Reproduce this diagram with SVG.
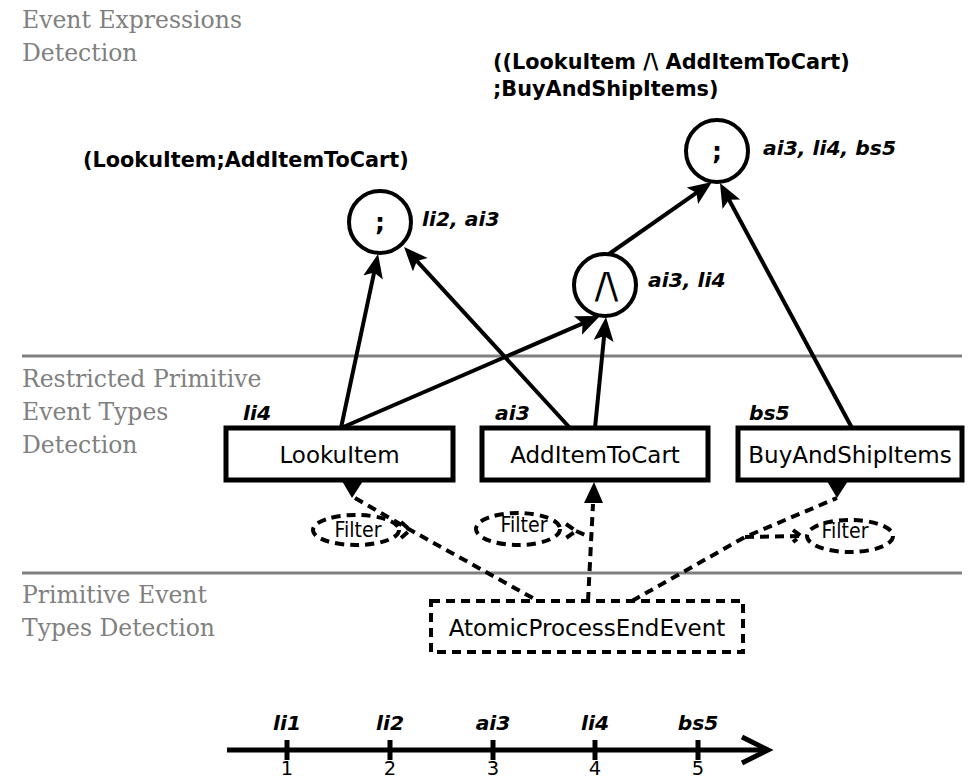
<svg xmlns="http://www.w3.org/2000/svg" width="972" height="780" viewBox="0 0 972 780">
<style>
.sec{font-family:"DejaVu Serif","Liberation Serif",serif;font-size:23.5px;fill:#808080}
.bl{font-family:"DejaVu Sans","Liberation Sans",sans-serif;font-weight:bold;font-size:20.8px;fill:#000}
.semi{font-family:"DejaVu Sans","Liberation Sans",sans-serif;font-weight:bold;font-size:25px;fill:#000}
.andop{font-family:"DejaVu Sans","Liberation Sans",sans-serif;font-size:36px;letter-spacing:-1px;fill:#000}
.bi{font-family:"DejaVu Sans","Liberation Sans",sans-serif;font-weight:bold;font-style:italic;font-size:20.3px;fill:#000}
.nm{font-family:"DejaVu Sans","Liberation Sans",sans-serif;font-size:23px;fill:#000}
.fl{font-family:"DejaVu Sans","Liberation Sans",sans-serif;font-size:21px;fill:#000}
.num{font-family:"DejaVu Sans","Liberation Sans",sans-serif;font-size:19.5px;fill:#000}
.box{fill:#fff;stroke:#000;stroke-width:5}
.circ{fill:#fff;stroke:#000;stroke-width:4}
.arr{stroke:#000;stroke-width:4;fill:none;marker-end:url(#ah)}
.dash{stroke:#000;stroke-width:4;fill:none;stroke-dasharray:9 6}
.sep{stroke:#808080;stroke-width:3}
.solid{stroke:#000;stroke-width:5;fill:none}
</style>
<defs>
<marker id="ah" markerUnits="userSpaceOnUse" markerWidth="26" markerHeight="22" refX="18" refY="10" orient="auto">
<path d="M0,0 L24,10 L0,20 L5,10 Z" fill="#000"/>
</marker>
</defs>

<g id="sections">
<line class="sep" x1="22" y1="356" x2="962" y2="356"/>
<line class="sep" x1="22" y1="573" x2="962" y2="573"/>
<text class="sec" x="22" y="28">Event Expressions</text>
<text class="sec" x="22" y="61">Detection</text>
<text class="sec" x="22" y="387">Restricted Primitive</text>
<text class="sec" x="22" y="420">Event Types</text>
<text class="sec" x="22" y="453">Detection</text>
<text class="sec" x="22" y="603">Primitive Event</text>
<text class="sec" x="22" y="636">Types Detection</text>
</g>

<g id="expr-labels">
<text class="bl" x="493" y="69">((LookuItem /\ AddItemToCart)</text>
<text class="bl" x="493" y="96">;BuyAndShipItems)</text>
<text class="bl" x="83" y="167">(LookuItem;AddItemToCart)</text>
</g>

<g id="connectors">
<line class="arr" x1="341" y1="428" x2="376.8" y2="259.9"/>
<line class="arr" x1="570" y1="428" x2="408.1" y2="251.4"/>
<line class="arr" x1="341" y1="428" x2="594.5" y2="318.4"/>
<line class="arr" x1="595" y1="428" x2="605.4" y2="323"/>
<line class="arr" x1="609" y1="254" x2="707.1" y2="185.4"/>
<line class="arr" x1="852" y1="428" x2="722.8" y2="188.3"/>
<path class="dash" d="M355,498 L405,527 L538,601"/>
<path class="dash" d="M401,522 L410,530 L401,538"/>
<path class="dash" d="M588,601 L593,504"/>
<path class="dash" d="M566,524 L576,531 L566,538 M576,531 L590,537"/>
<path class="dash" d="M632,601 L745,537 L837,498"/>
<path class="dash" d="M745,537 L800,536"/>
<path class="dash" d="M793,530 L801,536 L793,542"/>
<polygon points="342,481 363,481 352,498" fill="#000"/>
<polygon points="594,482 584,503 603,503" fill="#000"/>
<polygon points="827,481 848,481 837,498" fill="#000"/>
</g>

<g id="seq1">
<circle class="circ" cx="380" cy="222" r="31"/>
<text class="semi" x="380" y="231" text-anchor="middle">;</text>
<text class="bi" x="422" y="226">li2, ai3</text>
</g>
<g id="and1">
<circle class="circ" cx="605" cy="285" r="31"/>
<text class="andop" x="606" y="298" text-anchor="middle">/\</text>
<text class="bi" x="648" y="287">ai3, li4</text>
</g>
<g id="seq2">
<circle class="circ" cx="717" cy="151" r="31"/>
<text class="semi" x="717" y="160" text-anchor="middle">;</text>
<text class="bi" x="763" y="155">ai3, li4, bs5</text>
</g>

<g id="lookuitem">
<rect class="box" x="226" y="428" width="227" height="52"/>
<text class="nm" x="339.5" y="463" text-anchor="middle">LookuItem</text>
<text class="bi" x="243" y="420">li4</text>
</g>
<g id="additemtocart">
<rect class="box" x="482" y="428" width="226" height="52"/>
<text class="nm" x="595" y="463" text-anchor="middle">AddItemToCart</text>
<text class="bi" x="495" y="420">ai3</text>
</g>
<g id="buyandshipitems">
<rect class="box" x="738" y="428" width="224" height="52"/>
<text class="nm" x="850" y="463" text-anchor="middle">BuyAndShipItems</text>
<text class="bi" x="749" y="420">bs5</text>
</g>

<g id="filter1">
<ellipse class="dash" cx="356" cy="530" rx="43" ry="15"/>
<text class="fl" x="358" y="537" text-anchor="middle" textLength="47" lengthAdjust="spacingAndGlyphs">Filter</text>
</g>
<g id="filter2">
<ellipse class="dash" cx="518" cy="529" rx="42" ry="16"/>
<text class="fl" x="524" y="532" text-anchor="middle" textLength="47" lengthAdjust="spacingAndGlyphs">Filter</text>
</g>
<g id="filter3">
<ellipse class="dash" cx="850" cy="536" rx="43" ry="16"/>
<text class="fl" x="845" y="538" text-anchor="middle" textLength="47" lengthAdjust="spacingAndGlyphs">Filter</text>
</g>

<g id="atomic">
<rect class="dash" x="431" y="601" width="312" height="51"/>
<text class="nm" x="587" y="636" text-anchor="middle">AtomicProcessEndEvent</text>
</g>

<g id="timeline">
<line class="solid" x1="227" y1="750" x2="766" y2="750"/>
<polyline class="solid" points="742,737 768,750 742,763"/>
<line class="solid" x1="287" y1="740" x2="287" y2="760"/>
<line class="solid" x1="390" y1="740" x2="390" y2="760"/>
<line class="solid" x1="493" y1="740" x2="493" y2="760"/>
<line class="solid" x1="595" y1="740" x2="595" y2="760"/>
<line class="solid" x1="698" y1="740" x2="698" y2="760"/>
<text class="bi" x="287" y="730" text-anchor="middle">li1</text>
<text class="bi" x="390" y="730" text-anchor="middle">li2</text>
<text class="bi" x="493" y="730" text-anchor="middle">ai3</text>
<text class="bi" x="595" y="730" text-anchor="middle">li4</text>
<text class="bi" x="698" y="730" text-anchor="middle">bs5</text>
<text class="num" x="287" y="775" text-anchor="middle">1</text>
<text class="num" x="390" y="775" text-anchor="middle">2</text>
<text class="num" x="493" y="775" text-anchor="middle">3</text>
<text class="num" x="595" y="775" text-anchor="middle">4</text>
<text class="num" x="698" y="775" text-anchor="middle">5</text>
</g>
</svg>
